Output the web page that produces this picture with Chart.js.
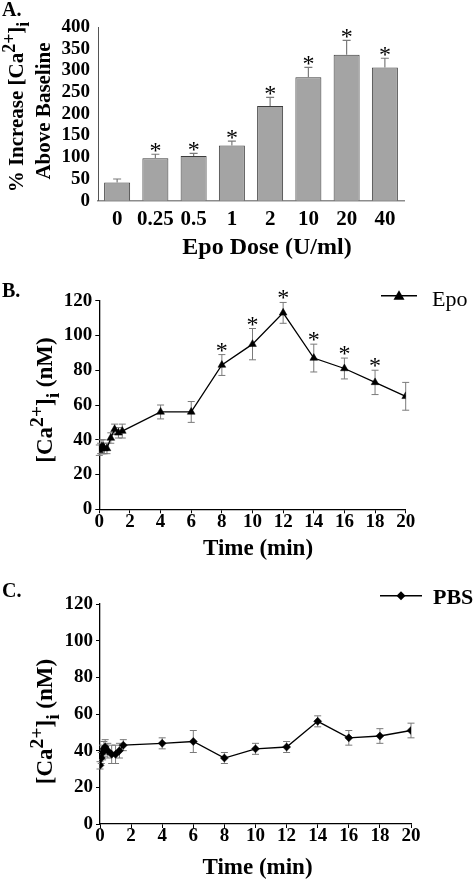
<!DOCTYPE html>
<html><head><meta charset="utf-8">
<script src="https://cdn.jsdelivr.net/npm/chart.js@4"></script>
<style>
html,body{margin:0;padding:0;background:#fff;width:475px;height:881px;overflow:hidden}
canvas{position:absolute;left:0}
</style></head><body>
<canvas id="cA" width="475" height="270" style="top:0"></canvas>
<canvas id="cB" width="475" height="290" style="top:270px"></canvas>
<canvas id="cC" width="475" height="321" style="top:560px"></canvas>
<script>
// ---- Panel A data ----
const doses = ["0", "0.25", "0.5", "1", "2", "10", "20", "40"];
const pctIncrease = [42, 98, 103, 127, 218, 284, 336, 307];
const pctSE = [8, 9, 6, 10, 20, 23, 33, 21];
const pctSig = [false, true, true, true, true, true, true, true];
const pctTicks = [0, 50, 100, 150, 200, 250, 300, 350, 400];

// ---- Panel B data (Epo) ----
const epoTime = [0, 0.083, 0.167, 0.25, 0.333, 0.5, 0.75, 1, 1.25, 1.5, 4, 6, 8, 10, 12, 14, 16, 18, 20];
const epoCa = [34, 35, 36, 36, 35, 35, 41, 46, 44, 45, 56, 56, 83, 95, 113, 87, 81, 73, 65];
const epoSE = [3, 3, 4, 4, 3, 3, 3, 3, 3, 4, 4, 6, 6, 9, 6, 8, 6, 7, 8];
const epoSigTimes = [8, 10, 12, 14, 16, 18];

// ---- Panel C data (PBS) ----
const pbsTime = [0, 0.083, 0.167, 0.25, 0.333, 0.5, 0.75, 1, 1.25, 1.5, 4, 6, 8, 10, 12, 14, 16, 18, 20];
const pbsCa = [32, 36, 39, 41, 42, 40, 38, 38, 40, 43, 44, 45, 36, 41, 42, 56, 47, 48, 51];
const pbsSE = [2, 3, 4, 4, 4, 4, 5, 5, 4, 3, 3, 6, 3, 3, 3, 3, 4, 4, 4];

const timeTicks = [0, 2, 4, 6, 8, 10, 12, 14, 16, 18, 20];
const caTicks = [0, 20, 40, 60, 80, 100, 120];

const FONT = '"Liberation Serif", "Times New Roman", serif';
const ERR = '#7a7a7a';

function richText(ctx, segs, cx, cy, size, rot) {
  ctx.save();
  ctx.translate(cx, cy);
  ctx.rotate(rot);
  let total = 0;
  const parts = segs.map(([t, k]) => {
    const s = k === 'n' ? size : size * 0.85;
    ctx.font = `bold ${s}px ${FONT}`;
    const w = ctx.measureText(t).width;
    total += w;
    return {t, k, s, w};
  });
  let x = -total / 2;
  ctx.textBaseline = 'alphabetic';
  ctx.textAlign = 'left';
  ctx.fillStyle = '#000';
  for (const p of parts) {
    ctx.font = `bold ${p.s}px ${FONT}`;
    const dy = p.k === 'sup' ? -size * 0.4 : p.k === 'sub' ? size * 0.3 : 0;
    ctx.fillText(p.t, x, dy);
    x += p.w;
  }
  ctx.restore();
}

function text(ctx, t, x, y, font, align, base) {
  ctx.save();
  ctx.font = font;
  ctx.fillStyle = '#000';
  ctx.textAlign = align || 'left';
  ctx.textBaseline = base || 'alphabetic';
  ctx.fillText(t, x, y);
  ctx.restore();
}

function cap(ctx, x, y, hw) {
  ctx.moveTo(x - hw, y); ctx.lineTo(x + hw, y);
}

// error bars for bar chart (upper only) + asterisks
const barErr = {
  id: 'barErr',
  afterDatasetsDraw(chart) {
    const ctx = chart.ctx, ys = chart.scales.y;
    const meta = chart.getDatasetMeta(0);
    ctx.save();
    ctx.strokeStyle = ERR; ctx.lineWidth = 1.2;
    meta.data.forEach((el, i) => {
      const top = ys.getPixelForValue(pctIncrease[i] + pctSE[i]);
      ctx.beginPath();
      ctx.moveTo(el.x, el.y); ctx.lineTo(el.x, top);
      cap(ctx, el.x, top, 4);
      ctx.stroke();
      if (pctSig[i]) text(ctx, '*', el.x, top + 4, `24px ${FONT}`, 'center');
    });
    ctx.restore();
  }
};

function lineErr(times, vals, ses, sigTimes) {
  return {
    id: 'lineErr',
    beforeDatasetsDraw(chart) {
      const ctx = chart.ctx, xs = chart.scales.x, ys = chart.scales.y;
      ctx.save();
      ctx.strokeStyle = ERR; ctx.lineWidth = 1;
      times.forEach((t, i) => {
        const x = xs.getPixelForValue(t);
        const a = ys.getPixelForValue(vals[i] + ses[i]);
        const b = ys.getPixelForValue(vals[i] - ses[i]);
        ctx.beginPath();
        ctx.moveTo(x, a); ctx.lineTo(x, b);
        cap(ctx, x, a, 3.5); cap(ctx, x, b, 3.5);
        ctx.stroke();
      });
      ctx.restore();
    },
    afterDatasetsDraw(chart) {
      const ctx = chart.ctx, xs = chart.scales.x, ys = chart.scales.y;
      sigTimes.forEach(t => {
        const i = times.indexOf(t);
        const x = xs.getPixelForValue(t);
        const a = ys.getPixelForValue(vals[i] + ses[i]);
        text(ctx, '*', x, a + 3, `24px ${FONT}`, 'center');
      });
    }
  };
}

function legend(ctx, x1, x2, y, style, label, font, tx, ty) {
  ctx.save();
  ctx.strokeStyle = '#000'; ctx.lineWidth = 1.5;
  ctx.beginPath(); ctx.moveTo(x1, y); ctx.lineTo(x2, y); ctx.stroke();
  ctx.fillStyle = '#000';
  const cx = (x1 + x2) / 2;
  if (style === 'triangle') {
    ctx.beginPath(); ctx.moveTo(cx, y - 5.5); ctx.lineTo(cx + 5.5, y + 4); ctx.lineTo(cx - 5.5, y + 4); ctx.closePath(); ctx.fill();
  } else {
    ctx.beginPath(); ctx.moveTo(cx, y - 4.5); ctx.lineTo(cx + 4.5, y); ctx.lineTo(cx, y + 4.5); ctx.lineTo(cx - 4.5, y); ctx.closePath(); ctx.fill();
  }
  ctx.restore();
  text(ctx, label, tx, ty, font, 'left');
}

const tickFont = {family: FONT, size: 19, weight: 'bold'};
const CAT = [['[Ca', 'n'], ['2+', 'sup'], [']', 'n'], ['i', 'sub'], [' (nM)', 'n']];

// ---------- Panel A ----------
new Chart(document.getElementById('cA'), {
  type: 'bar',
  data: {labels: doses, datasets: [{data: pctIncrease, backgroundColor: '#a4a4a4', borderColor: '#3c3c3c', borderWidth: 1, barPercentage: 0.68, categoryPercentage: 1}]},
  options: {
    responsive: false, animation: false, devicePixelRatio: 1,
    layout: {padding: {top: 27, right: 71, left: 0, bottom: 0}},
    plugins: {legend: {display: false}, tooltip: {enabled: false}},
    scales: {
      x: {grid: {display: false, drawTicks: false}, border: {color: '#8c8c8c', width: 1.5},
          ticks: {font: {family: FONT, size: 21, weight: 'bold'}, color: '#000', padding: 6, autoSkip: false, maxRotation: 0, minRotation: 0},
          afterFit: s => { s.height = 69.3; }},
      y: {min: 0, max: 400, afterBuildTicks: s => { s.ticks = pctTicks.map(v => ({value: v})); },
          ticks: {font: tickFont, color: '#000', padding: 8, autoSkip: false},
          grid: {display: false, drawTicks: false}, border: {color: '#555', width: 1},
          afterFit: s => { s.width = 98; }}
    }
  },
  plugins: [barErr, {
    id: 'decoA',
    afterDraw(chart) {
      const ctx = chart.ctx;
      text(ctx, 'A.', 2, 16, `bold 20px ${FONT}`);
      richText(ctx, [['% Increase [Ca', 'n'], ['2+', 'sup'], [']', 'n'], ['i', 'sub']], 23, 107, 21, -Math.PI / 2);
      richText(ctx, [['Above Baseline', 'n']], 50, 111, 21, -Math.PI / 2);
      text(ctx, 'Epo Dose (U/ml)', 267, 248, `bold 24px ${FONT}`, 'center', 'middle');
    }
  }]
});

function lineChart(id, times, vals, ses, sigs, style, radius, pad, xh, yw, deco) {
  return new Chart(document.getElementById(id), {
    type: 'line',
    data: {datasets: [{data: times.map((t, i) => ({x: t, y: vals[i]})), borderColor: '#000', borderWidth: 1.3,
      pointStyle: style, pointRadius: radius, pointBackgroundColor: '#000', pointBorderColor: '#000', pointBorderWidth: 0.5, tension: 0}]},
    options: {
      responsive: false, animation: false, devicePixelRatio: 1,
      layout: {padding: pad},
      plugins: {legend: {display: false}, tooltip: {enabled: false}},
      scales: {
        x: {type: 'linear', min: 0, max: 20, afterBuildTicks: s => { s.ticks = timeTicks.map(v => ({value: v})); },
            grid: {drawOnChartArea: false, drawTicks: true, tickLength: 4, color: '#000'},
            border: {color: '#000', width: 1.3},
            ticks: {font: tickFont, color: '#000', padding: -3, autoSkip: false, maxRotation: 0, minRotation: 0},
            afterFit: s => { s.height = xh; }},
        y: {min: 0, max: 120, afterBuildTicks: s => { s.ticks = caTicks.map(v => ({value: v})); },
            grid: {drawOnChartArea: false, drawTicks: true, tickLength: 4, color: '#000'},
            border: {color: '#000', width: 1.3},
            ticks: {font: tickFont, color: '#000', padding: 3, autoSkip: false},
            afterFit: s => { s.width = yw; }}
      }
    },
    plugins: [lineErr(times, vals, ses, sigs), {id: 'deco', afterDraw: c => deco(c.ctx)}]
  });
}

// ---------- Panel B ----------
lineChart('cB', epoTime, epoCa, epoSE, epoSigTimes, 'triangle', 4.5,
  {top: 30.7, right: 69.3, left: 0, bottom: 0}, 50.7, 99.3, ctx => {
    text(ctx, 'B.', 2, 27, `bold 20px ${FONT}`);
    richText(ctx, CAT, 52, 130, 23, -Math.PI / 2);
    text(ctx, 'Time (min)', 258, 279, `bold 23px ${FONT}`, 'center', 'middle');
    legend(ctx, 381, 417, 25.7, 'triangle', 'Epo', `22px ${FONT}`, 432, 36);
  });

// ---------- Panel C ----------
lineChart('cC', pbsTime, pbsCa, pbsSE, [], 'rectRot', 4,
  {top: 44, right: 64, left: 0, bottom: 0}, 57, 100, ctx => {
    text(ctx, 'C.', 2, 37, `bold 20px ${FONT}`);
    richText(ctx, CAT, 52, 161.5, 23, -Math.PI / 2);
    text(ctx, 'Time (min)', 257.5, 308, `bold 23px ${FONT}`, 'center', 'middle');
    legend(ctx, 380, 422, 35.7, 'rectRot', 'PBS', `bold 22px ${FONT}`, 433, 44);
  });
</script>
</body></html>
